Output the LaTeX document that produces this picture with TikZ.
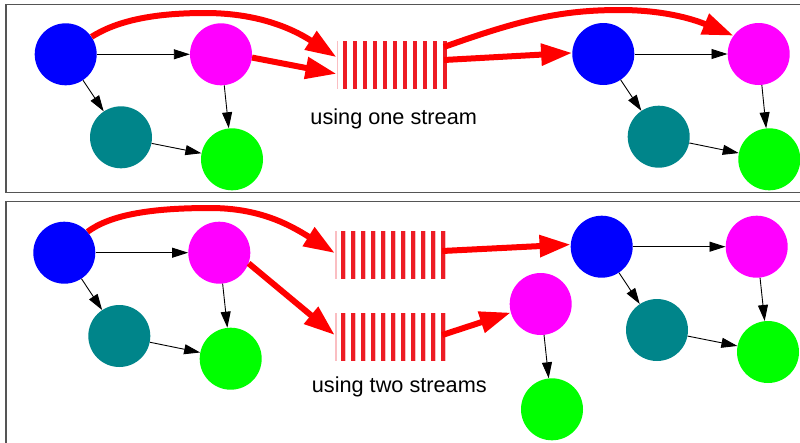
\documentclass[tikz,border=0pt]{standalone}
\usepackage{fontspec}
\setmainfont{Liberation Sans}
\usetikzlibrary{arrows.meta,calc}
\definecolor{nblue}{RGB}{0,0,255}
\definecolor{nmag}{RGB}{255,0,255}
\definecolor{nteal}{RGB}{0,133,138}
\definecolor{ngreen}{RGB}{0,255,0}
\definecolor{stripecol}{RGB}{237,28,36}
\definecolor{stripepale}{RGB}{250,190,194}
\definecolor{panelgray}{RGB}{85,85,85}
\definecolor{flowred}{RGB}{255,0,0}
\tikzset{
  vnode/.style={circle, minimum size=62pt, inner sep=0pt, draw=none},
  bluenode/.style={vnode, fill=nblue},
  magnode/.style={vnode, fill=nmag},
  tealnode/.style={vnode, fill=nteal},
  greennode/.style={vnode, fill=ngreen},
  streambox/.style={rectangle, minimum width=111pt, minimum height=48.5pt, inner sep=0pt, draw=none},
  blk/.style={draw=black, line width=0.9pt, -{Triangle[length=16pt,width=10pt]}},
  redflow/.style={draw=flowred, line width=6pt, -{Triangle[length=31pt,width=21pt]}},
  panel/.style={draw=panelgray, line width=1.3pt},
  caption/.style={anchor=base, inner sep=0pt, font=\fontsize{21.7}{26}\selectfont}
}
\newcommand{\mystripes}[1]{%
  \fill[stripepale] ($(#1.north west)+(0,0)$) rectangle ($(#1.south west)+(1.8,0)$);
  \foreach \k in {0,...,10}{%
    \fill[stripepale] ($(#1.north west)+(6.1+10*\k,0)$) rectangle ($(#1.south west)+(10.9+10*\k,0)$);
    \fill[stripecol] ($(#1.north west)+(6.6+10*\k,0)$) rectangle ($(#1.south west)+(10.4+10*\k,0)$);
  }%
}
\begin{document}
\begin{tikzpicture}[x=1pt,y=-1pt]
\useasboundingbox (0,0) rectangle (800,442);
\clip (0,0) rectangle (800,442);
% panels
\draw[panel] (6,4.5) rectangle (830,192.7);
\draw[panel] (6,201.7) rectangle (830,470);

% ---------- top panel ----------
\node[bluenode]  (b1) at (65.7,54.3) {};
\node[magnode]   (m1) at (221,54.3) {};
\node[tealnode]  (t1) at (121,137.3) {};
\node[greennode] (g1) at (232,159.3) {};
\node[streambox] (s1) at (392.2,65) {};
\mystripes{s1}
\node[bluenode]  (b2) at (603.3,54) {};
\node[magnode]   (m2) at (758.7,54) {};
\node[tealnode]  (t2) at (658.7,136.7) {};
\node[greennode] (g2) at (769.3,159.3) {};
\node[caption] (c1) at (393.7,124) {using one stream};

\draw[blk] (b1) -- (m1);
\draw[blk] (b1) -- (t1);
\draw[blk] (m1) -- (g1);
\draw[blk] (t1) -- (g1);
\draw[blk] (b2) -- (m2);
\draw[blk] (b2) -- (t2);
\draw[blk] (m2) -- (g2);
\draw[blk] (t2) -- (g2);

\draw[redflow] (b1.34) .. controls (115,22) and (150,13) .. (205,13)
  .. controls (255,13) and (290,27) .. (s1.172);
\draw[redflow] (m1.-6) -- (s1.189);
\draw[redflow] ($(s1.east)+(-4,-5)$) -- (b2.178);
\draw[redflow] ($(s1.east)+(-4,-18)$) .. controls (520,20) and (560,10) .. (620,10)
  .. controls (670,10) and (700,22) .. (m2.144);

% ---------- bottom panel ----------
\node[bluenode]  (b3) at (64.3,252.7) {};
\node[magnode]   (m3) at (219.3,252.7) {};
\node[tealnode]  (t3) at (119.3,336) {};
\node[greennode] (g3) at (230.7,358.7) {};
\node[streambox] (s2) at (390.5,255) {};
\node[streambox] (s3) at (390.5,337) {};
\mystripes{s2}
\mystripes{s3}
\node[bluenode]  (b4) at (601.7,246.7) {};
\node[magnode]   (m4) at (756.7,246.7) {};
\node[tealnode]  (t4) at (657,330) {};
\node[greennode] (g4) at (768,352) {};
\node[magnode]   (m5) at (540.7,304) {};
\node[greennode] (g5) at (552,409.3) {};
\node[caption] (c2) at (399.3,392) {using two streams};

\draw[blk] (b3) -- (m3);
\draw[blk] (b3) -- (t3);
\draw[blk] (m3) -- (g3);
\draw[blk] (t3) -- (g3);
\draw[blk] (b4) -- (m4);
\draw[blk] (b4) -- (t4);
\draw[blk] (m4) -- (g4);
\draw[blk] (t4) -- (g4);
\draw[blk] (m5) -- (g5);

\draw[redflow] (b3.42) .. controls (110,215) and (150,208) .. (210,208)
  .. controls (260,208) and (290,225) .. (s2.178);
\draw[redflow] (m3.-20) -- (s3.178);
\draw[redflow] ($(s2.east)+(-4,-4)$) -- (b4.176);
\draw[redflow] ($(s3.east)+(-4,-2)$) -- (m5.196);
\end{tikzpicture}
\end{document}
